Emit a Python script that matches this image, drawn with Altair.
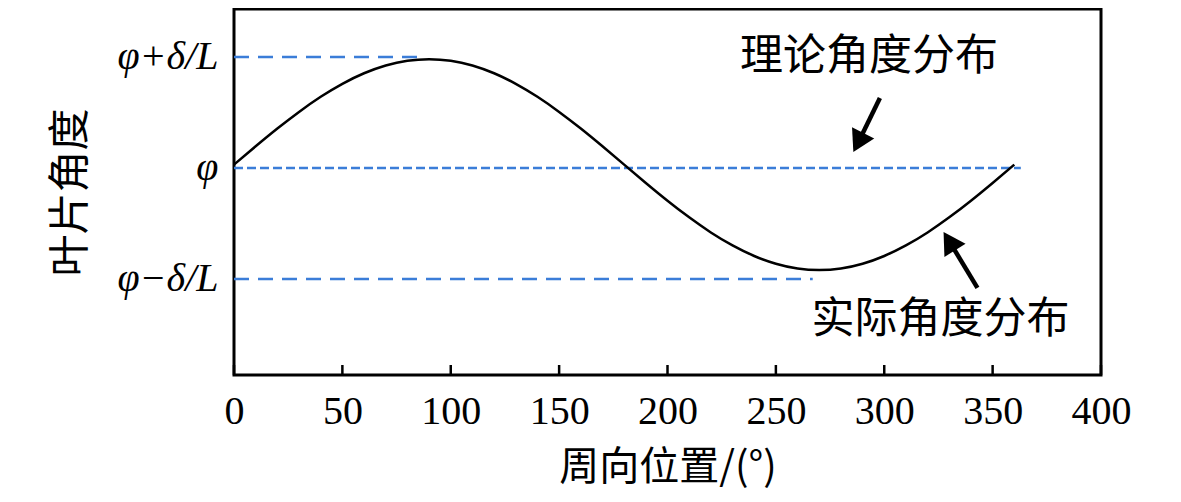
import altair as alt
import pandas as pd

pos_deg = [0, 10, 20, 30, 40, 50, 60, 70, 80, 90, 100, 110, 120, 130, 140, 150, 160, 170, 180,
           190, 200, 210, 220, 230, 240, 250, 260, 270, 280, 290, 300, 310, 320, 330, 340, 350, 360]
actual = [0.030, 0.195, 0.355, 0.505, 0.641, 0.758, 0.853, 0.923, 0.966, 0.980, 0.966, 0.923,
          0.853, 0.758, 0.641, 0.505, 0.355, 0.195, 0.030, -0.135, -0.295, -0.445, -0.581,
          -0.698, -0.793, -0.863, -0.906, -0.920, -0.906, -0.863, -0.793, -0.698, -0.581,
          -0.445, -0.295, -0.135, 0.030]

# Theoretical reference lines (phi+d/L, phi, phi-d/L)
ref_level = [1, 0, -1]
ref_end = [88, 363, 267]
ref_dash = ["long", "short", "long"]

y_tick_values = [-1, 0, 1]
y_tick_labels = ["φ−δ/L", "φ", "φ+δ/L"]
x_ticks = [0, 50, 100, 150, 200, 250, 300, 350, 400]
tick_len = 0.09  # inward tick length in y units

# annotations
ann_text = ["理论角度分布", "实际角度分布"]
ann_x = [293, 326]
ann_y = [1.0, -1.37]
arrow_tail_x = [298, 343]
arrow_tail_y = [0.63, -1.08]
arrow_head_x = [288, 330]
arrow_head_y = [0.23, -0.66]
arrow_angle = [207, 328]

xdom = [0, 400]
ydom = [-1.865, 1.432]

curve_df = pd.DataFrame({"x": pos_deg, "y": actual})
ref_df = pd.DataFrame({"y": ref_level, "x0": [0] * 3, "x1": ref_end, "dash": ref_dash})
ann_df = pd.DataFrame({"x": ann_x, "y": ann_y, "t": ann_text})
arrow_df = pd.DataFrame({"x": arrow_tail_x, "y": arrow_tail_y,
                         "x2": arrow_head_x, "y2": arrow_head_y, "a": arrow_angle})
tick_df = pd.DataFrame({"x": x_ticks, "y0": [ydom[0]] * len(x_ticks),
                        "y1": [ydom[0] + tick_len] * len(x_ticks)})

label_expr = " : ".join(
    [f"datum.value == {v} ? '{l}'" for v, l in zip(y_tick_values, y_tick_labels)]
) + " : ''"

xs = alt.Scale(domain=xdom, nice=False, zero=False)
ys = alt.Scale(domain=ydom, nice=False, zero=False)

x_axis = alt.Axis(values=x_ticks, grid=False, domain=False, ticks=False, labelPadding=16,
                  labelFlush=False, labelOverlap=False,
                  labelFont="Liberation Serif", labelFontSize=40, labelColor="black",
                  title="周向位置/(°)", titleFont="Noto Sans CJK SC", titleFontSize=40,
                  titleFontWeight="normal", titleColor="black", titlePadding=16)
y_axis = alt.Axis(values=y_tick_values, labelExpr=label_expr, grid=False, domain=False,
                  ticks=False, labelPadding=16, labelFont="Liberation Serif",
                  labelFontStyle="italic", labelFontSize=40, labelColor="black",
                  title="叶片角度", titleFont="Noto Sans CJK SC", titleFontSize=42,
                  titleFontWeight="normal", titleColor="black", titlePadding=24)

refs_long = alt.Chart(ref_df).transform_filter("datum.dash == 'long'").mark_rule(
    color="#3b7dd8", strokeWidth=2.5, strokeDash=[15, 9]
).encode(
    x=alt.X("x0:Q", scale=xs, axis=x_axis),
    x2="x1:Q",
    y=alt.Y("y:Q", scale=ys, axis=y_axis),
)
refs_short = alt.Chart(ref_df).transform_filter("datum.dash == 'short'").mark_rule(
    color="#3b7dd8", strokeWidth=2.5, strokeDash=[9, 4]
).encode(
    x=alt.X("x0:Q", scale=xs),
    x2="x1:Q",
    y=alt.Y("y:Q", scale=ys),
)

ticks = alt.Chart(tick_df).mark_rule(color="black", strokeWidth=2.5).encode(
    x=alt.X("x:Q", scale=xs), y=alt.Y("y0:Q", scale=ys), y2="y1:Q"
)

curve = alt.Chart(curve_df).mark_line(color="black", strokeWidth=2.5, interpolate="natural").encode(
    x=alt.X("x:Q", scale=xs),
    y=alt.Y("y:Q", scale=ys),
)

arrow_lines = alt.Chart(arrow_df).mark_rule(color="black", strokeWidth=4.5).encode(
    x=alt.X("x:Q", scale=xs), y=alt.Y("y:Q", scale=ys), x2="x2:Q", y2="y2:Q"
)
arrow_heads = alt.Chart(arrow_df).mark_point(
    shape="triangle-up", filled=True, color="black", size=620, opacity=1
).encode(
    x=alt.X("x2:Q", scale=xs), y=alt.Y("y2:Q", scale=ys), angle=alt.Angle("a:Q", scale=None)
)

texts = alt.Chart(ann_df).mark_text(
    font="Noto Sans CJK SC", fontSize=43, color="black", align="center", baseline="middle"
).encode(
    x=alt.X("x:Q", scale=xs), y=alt.Y("y:Q", scale=ys), text="t:N"
)

chart = alt.layer(refs_long, refs_short, ticks, curve, arrow_lines, arrow_heads, texts).properties(
    width=867, height=366,
    autosize=alt.AutoSizeParams(type="none"),
    padding={"left": 226, "top": 1, "right": 70, "bottom": 126},
    background="white",
).configure_view(stroke="black", strokeWidth=3)

chart.save("out.html", embed_options={"renderer": "svg", "actions": False})
